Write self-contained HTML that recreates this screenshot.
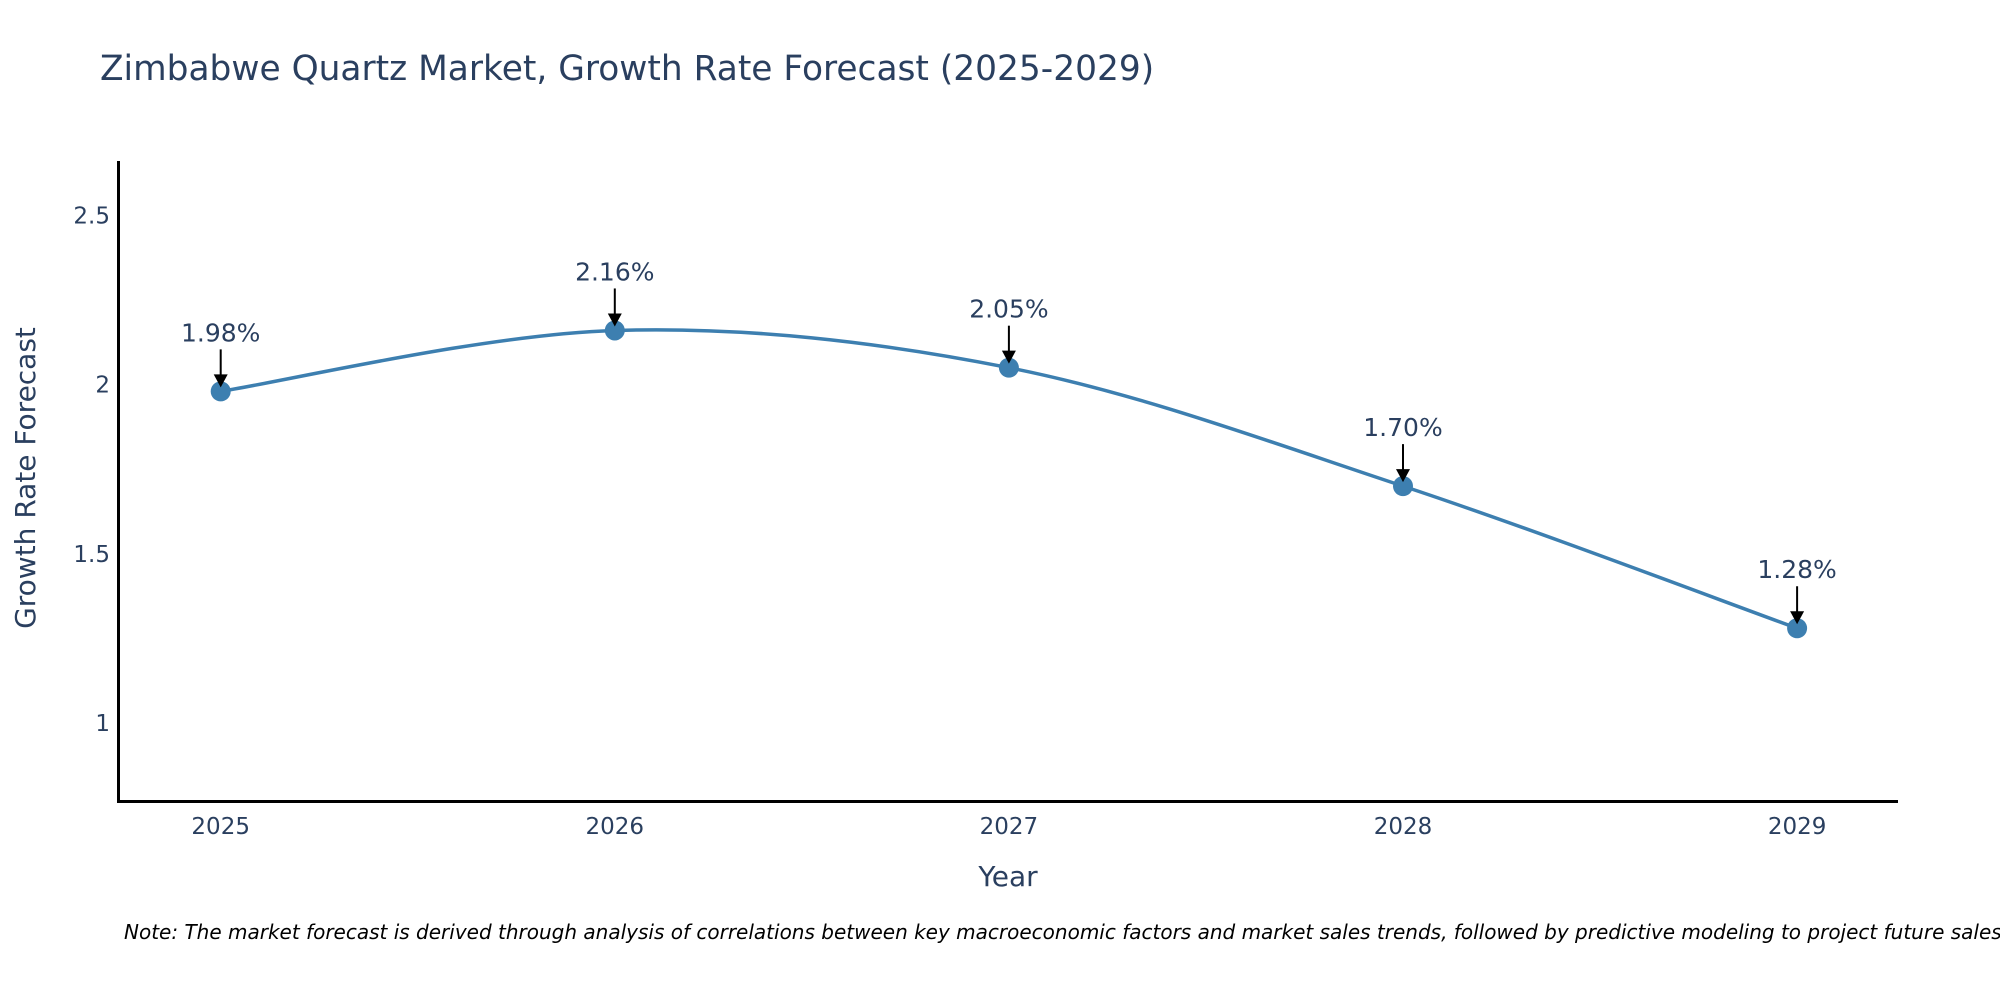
<!DOCTYPE html>
<html><head><meta charset="utf-8"><style>
body{margin:0;background:#fff;overflow:hidden;}
svg text{font-family:"DejaVu Sans","Liberation Sans",sans-serif;fill:#2a3f5f;}
</style></head><body>
<svg width="2000" height="1000" viewBox="0 0 2000 1000" xmlns="http://www.w3.org/2000/svg">
<text x="100" y="80" font-size="34.4">Zimbabwe Quartz Market, Growth Rate Forecast (2025-2029)</text>
<g id="plot"></g>
<line x1="118.5" y1="161" x2="118.5" y2="802" stroke="#000" stroke-width="3"/>
<line x1="117" y1="801.5" x2="1898" y2="801.5" stroke="#000" stroke-width="3"/>
<text x="1008" y="886" font-size="28" text-anchor="middle">Year</text>
<text transform="translate(35,478) rotate(-90)" font-size="28" text-anchor="middle">Growth Rate Forecast</text>
<text x="124" y="939" font-size="20" font-style="italic" style="fill:#000">Note: The market forecast is derived through analysis of correlations between key macroeconomic factors and market sales trends, followed by predictive modeling to project future sales.</text>
</svg>
<script>
const years = [2025, 2026, 2027, 2028, 2029];
const values = [1.98, 2.16, 2.05, 1.70, 1.28];
const labels = ["1.98%", "2.16%", "2.05%", "1.70%", "1.28%"];
const yTicks = [1, 1.5, 2, 2.5];
const yTickLabels = ["1", "1.5", "2", "2.5"];

const NS = "http://www.w3.org/2000/svg";
const g = document.getElementById('plot');
const xs = v => 220.7 + (v - 2025) * 394.1;
const ys = v => 723 - (v - 1) * 338.4;
function mk(t, a, parent) { const e = document.createElementNS(NS, t); for (const k in a) e.setAttribute(k, a[k]); (parent || g).appendChild(e); return e; }

yTicks.forEach((t, i) => {
  const e = mk('text', {x: 110, y: ys(t) + 8, 'font-size': 23, 'text-anchor': 'end'});
  
  
  e.textContent = yTickLabels[i];
});
years.forEach(yr => {
  const e = mk('text', {x: xs(yr), y: 834, 'font-size': 23, 'text-anchor': 'middle'});
  
  
  e.textContent = String(yr);
});

const pts = years.map((yr, i) => [xs(yr), ys(values[i])]);
let d = `M${pts[0][0]},${pts[0][1]}`;
const tension = 1/6;
for (let i = 0; i < pts.length - 1; i++) {
  const p0 = pts[Math.max(0, i - 1)], p1 = pts[i], p2 = pts[i + 1], p3 = pts[Math.min(pts.length - 1, i + 2)];
  const c1 = [p1[0] + (p2[0] - p0[0]) * tension, p1[1] + (p2[1] - p0[1]) * tension];
  const c2 = [p2[0] - (p3[0] - p1[0]) * tension, p2[1] - (p3[1] - p1[1]) * tension];
  d += ` C${c1[0]},${c1[1]} ${c2[0]},${c2[1]} ${p2[0]},${p2[1]}`;
}
const line = mk('path', {d: d, fill: 'none', stroke: '#3d7fb0', 'stroke-width': 3.5});



pts.forEach((p, i) => {
  const c = mk('circle', {cx: p[0], cy: p[1], r: 10, fill: '#3d7fb0'});
  
  
  const a = mk('line', {x1: p[0], y1: p[1] - 42, x2: p[0], y2: p[1] - 14, stroke: '#000', 'stroke-width': 2});
  
  
  const h = mk('path', {d: `M${p[0]-7},${p[1]-17} L${p[0]+7},${p[1]-17} L${p[0]},${p[1]-4} Z`, fill: '#000'});
  
  
  const t = mk('text', {x: p[0], y: p[1] - 50, 'font-size': 25, 'text-anchor': 'middle'});
  
  
  t.textContent = labels[i];
});
</script>
</body></html>
